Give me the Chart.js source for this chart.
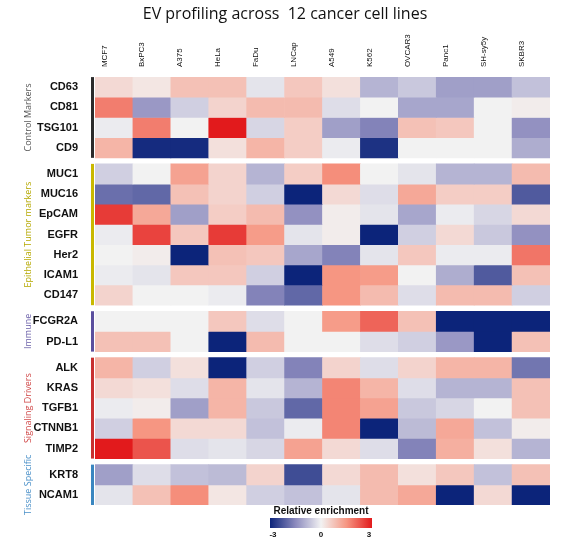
<!DOCTYPE html>
<html><head><meta charset="utf-8">
<script src="https://cdn.jsdelivr.net/npm/chart.js@4/dist/chart.umd.min.js"></script>
<style>html,body{margin:0;padding:0;background:#fff}#w{width:572px;height:542px}</style>
</head><body><div id="w"><canvas id="c"></canvas></div>
<script>
const cellLines=["MCF7","BxPC3","A375","HeLa","FaDu","LNCap","A549","K562","OVCAR3","Panc1","SH-sy5y","SKBR3"];
const groups=[
 {name:"Control Markers",color:"#2b2b2b",text:"#555",rows:["CD63","CD81","TSG101","CD9"]},
 {name:"Epithelial Tumor markers",color:"#c9b800",text:"#b5a800",rows:["MUC1","MUC16","EpCAM","EGFR","Her2","ICAM1","CD147"]},
 {name:"Immune",color:"#5b4f9e",text:"#6a5fa8",rows:["FCGR2A","PD-L1"]},
 {name:"Signaling Drivers",color:"#c83030",text:"#d04848",rows:["ALK","KRAS","TGFB1","CTNNB1","TIMP2"]},
 {name:"Tissue Specific",color:"#3a86c0",text:"#4a90c8",rows:["KRT8","NCAM1"]}
];
const CD63=[0.4,0.2,0.8,0.8,-0.2,0.7,0.3,-0.9,-0.6,-1.2,-1.2,-0.7];
const CD81=[1.8,-1.3,-0.5,0.5,0.9,0.9,-0.3,0,-1.1,-1.1,0,0.1];
const TSG101=[-0.1,1.8,0,3,-0.4,0.6,-1.2,-1.6,0.8,0.7,0,-1.4];
const CD9=[1.0,-2.9,-2.9,0.3,1.0,0.6,-0.1,-2.8,0,0,0,-1.0];
const MUC1=[-0.5,0,1.3,0.5,-0.9,0.6,1.6,0,-0.2,-0.9,-0.9,0.9];
const MUC16=[-1.9,-2.0,0.8,0.5,-0.5,-3,0.4,-0.3,1.2,0.6,0.6,-2.2];
const EpCAM=[2.6,1.2,-1.2,0.6,0.9,-1.4,0.1,-0.2,-1.1,-0.1,-0.4,0.4];
const EGFR=[-0.1,2.5,0.7,2.6,1.4,-0.2,0.1,-3,-0.5,0.4,-0.6,-1.4];
const Her2=[0,0.1,-3,0.8,0.7,-1.1,-1.6,-0.2,0.7,-0.1,-0.1,1.9];
const ICAM1=[-0.1,-0.2,0.7,0.7,-0.5,-3,1.5,1.4,0,-1.0,-2.2,0.8];
const CD147=[0.5,0,0,-0.1,-1.6,-2.0,1.5,0.9,-0.3,0.9,0.9,-0.5];
const FCGR2A=[0,0,0,0.7,-0.3,0,1.4,2.1,0.8,-3,-3,-3];
const PDL1=[0.8,0.8,0,-3,0.9,0,0,-0.3,-0.5,-1.3,-3,0.8];
const ALK=[1.0,-0.5,0.3,-3,-0.5,-1.6,0.5,-0.3,0.5,1.0,1.0,-1.8];
const KRAS=[0.4,0.3,-0.3,1.0,-0.2,-0.9,1.7,1.0,-0.3,-0.9,-0.9,0.8];
const TGFB1=[-0.1,0.1,-1.2,1.0,-0.6,-2.0,1.7,1.3,-0.6,-0.4,0,0.8];
const CTNNB1=[-0.5,1.5,0.4,0.4,-0.7,-0.1,1.7,-3,-0.8,1.2,-0.7,0.1];
const TIMP2=[3,2.3,-0.3,-0.2,-0.4,1.3,0.4,-0.3,-1.6,1.1,0.3,-0.9];
const KRT8=[-1.2,-0.3,-0.7,-0.8,0.5,-2.4,0.4,0.9,0.3,0.7,-0.7,0.8];
const NCAM1=[-0.2,0.8,1.6,0.2,-0.5,-0.7,-0.2,0.9,1.2,-3,0.4,-3];
const values={CD63,CD81,TSG101,CD9,MUC1,MUC16,EpCAM,EGFR,Her2,ICAM1,CD147,FCGR2A,"PD-L1":PDL1,ALK,KRAS,TGFB1,CTNNB1,TIMP2,KRT8,NCAM1};

const stops=[[-3,[12,36,122]],[-1.5,[140,138,190]],[0,[242,242,242]],[1.5,[246,150,130]],[3,[226,26,28]]];
function col(v){v=Math.max(-3,Math.min(3,v));for(let i=0;i<stops.length-1;i++){const[a,ca]=stops[i],[b,cb]=stops[i+1];if(v<=b){const t=(v-a)/(b-a);return `rgb(${ca.map((x,k)=>Math.round(x+(cb[k]-x)*t)).join(",")})`;}}}

const GAP=0.3;let pos=0;const rowPos=[];const groupSpans=[];
groups.forEach((g,gi)=>{const s=pos;g.rows.forEach(r=>{rowPos.push({r,y0:pos,y1:pos+1});pos+=1;});groupSpans.push({g,s,e:pos});if(gi<groups.length-1)pos+=GAP;});
const total=pos;
const datasets=rowPos.map(p=>({label:p.r,data:cellLines.map(()=>[p.y0,p.y1]),backgroundColor:values[p.r].map(col),borderWidth:0,categoryPercentage:1,barPercentage:1,grouped:false}));
const F='"Liberation Sans",Arial,sans-serif';
const deco={id:'deco',afterDraw(ch){const c=ch.ctx,y=ch.scales.y,a=ch.chartArea;c.save();
 groupSpans.forEach(({g,s,e})=>{const t=y.getPixelForValue(s),b=y.getPixelForValue(e);
  c.fillStyle=g.color;c.fillRect(a.left-4,t,3,b-t);
  c.save();c.translate(28,(t+b)/2);c.rotate(-Math.PI/2);c.fillStyle=g.text;c.font='9px "Open Sans",sans-serif';c.textAlign='center';c.textBaseline='middle';c.fillText(g.name,0,0);c.restore();});
 const cx=270,cw=102,cy=518,chh=10;const gr=c.createLinearGradient(cx,0,cx+cw,0);
 for(let i=0;i<=20;i++){gr.addColorStop(i/20,col(-3+6*i/20));}
 c.fillStyle=gr;c.fillRect(cx,cy,cw,chh);
 c.fillStyle='#111';c.font='bold 10px '+F;c.textAlign='center';c.textBaseline='alphabetic';c.fillText('Relative enrichment',cx+cw/2,514);
 c.font='bold 8px '+F;c.textBaseline='top';c.fillText('-3',cx+3,531);c.fillText('0',cx+cw/2,531);c.fillText('3',cx+cw-3,531);
 c.restore();}};

new Chart(document.getElementById('c'),{type:'bar',data:{labels:cellLines,datasets},
options:{responsive:true,maintainAspectRatio:false,animation:false,
 layout:{padding:{left:20,right:22,top:0,bottom:37}},
 plugins:{legend:{display:false},tooltip:{enabled:false},
  title:{display:true,text:'EV profiling across  12 cancer cell lines',color:'#111',font:{size:16,family:'"Open Sans",sans-serif',weight:'500'},padding:{top:5,bottom:8}}},
 scales:{
  x:{position:'top',grid:{display:false},border:{display:false},
   ticks:{autoSkip:false,maxRotation:90,minRotation:90,color:'#111',font:{size:8,family:F},padding:2}},
  y:{type:'linear',reverse:true,min:0,max:total,grid:{display:false},border:{display:false},
   afterFit(s){s.width=75;},
   afterBuildTicks(s){s.ticks=rowPos.map(p=>({value:(p.y0+p.y1)/2}));},
   ticks:{autoSkip:false,color:'#111',padding:9,font:{size:11,weight:'bold',family:F},
    callback(v){const p=rowPos.find(q=>Math.abs((q.y0+q.y1)/2-v)<1e-6);return p?p.r:'';}}}
 }},plugins:[deco]});
</script></body></html>
